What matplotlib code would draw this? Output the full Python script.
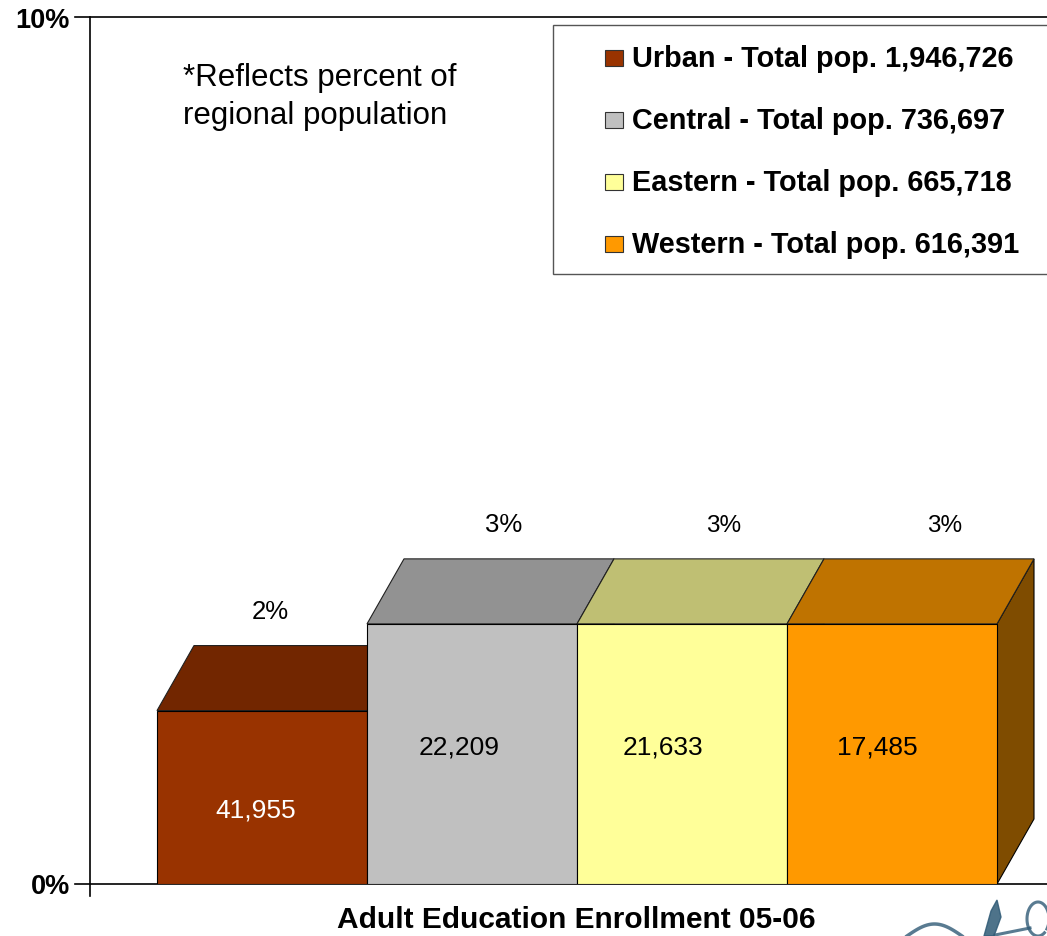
import numpy as np
import matplotlib.pyplot as plt
from matplotlib.patches import Polygon, Rectangle

plt.rcParams['font.family'] = ['Liberation Sans', 'DejaVu Sans']

regions = ["Urban", "Central", "Eastern", "Western"]
total_pop = [1946726, 736697, 665718, 616391]
enrolled = [41955, 22209, 21633, 17485]
pct_of_pop = [2, 3, 3, 3]  # shown rounded, in percent

front_colors = ["#993300", "#C0C0C0", "#FFFF99", "#FF9900"]
top_colors = ["#722600", "#929292", "#BFBF73", "#BF7300"]
side_colors = ["#4C1A00", "#606060", "#80804C", "#7F4C00"]

# figure size in pixels, everything in the overlay is laid out in these
W, H = 1047, 937
DEPTH_X = 37 / 210.0   # fake 3d depth, in bar widths
DEPTH_Y = 0.75         # fake 3d depth, in percent

# label placement tweaks (layout only)
pct_dx = [0.04, 0.15, 0.20, 0.25]
pct_size = [18.5, 18.5, 17.5, 17.5]
inner_dx = [-0.03, -0.06, -0.09, -0.07]
inner_y = [0.78, 1.51, 1.51, 1.51]
inner_color = ["white", "black", "black", "black"]


def draw_box(ax, i, v):
    left, right = i - 0.5, i + 0.5
    side = Polygon([(right, 0), (right + DEPTH_X, DEPTH_Y),
                    (right + DEPTH_X, v + DEPTH_Y), (right, v)],
                   closed=True, facecolor=side_colors[i], edgecolor="black", lw=0.8)
    top = Polygon([(left, v), (right, v), (right + DEPTH_X, v + DEPTH_Y),
                   (left + DEPTH_X, v + DEPTH_Y)],
                  closed=True, facecolor=top_colors[i], edgecolor="#202020", lw=0.8)
    front = Rectangle((left, 0), 1, v, facecolor=front_colors[i],
                      edgecolor="black", lw=0.8)
    for p in (side, top, front):
        ax.add_patch(p)


fig = plt.figure(figsize=(W / 100, H / 100), dpi=100)

# overlay in pixel coords for axis lines, legend and free text
ov = fig.add_axes([0, 0, 1, 1])
ov.set_xlim(0, W)
ov.set_ylim(H, 0)
ov.axis("off")

# value axis and the two gridlines
ov.plot([90, 90], [18, 897], color="black", lw=1.2)
ov.plot([75, W], [18, 18], color="black", lw=1.2)
ov.plot([75, W], [885, 885], color="black", lw=1.2)
ov.text(70, 28, "10%", ha="right", va="baseline", fontsize=19.5, fontweight="bold")
ov.text(70, 894, "0%", ha="right", va="baseline", fontsize=19.5, fontweight="bold")

ov.text(576, 928, "Adult Education Enrollment 05-06", ha="center", va="baseline",
        fontsize=21.5, fontweight="bold")

ov.text(183, 86, "*Reflects percent of", ha="left", va="baseline", fontsize=22.5)
ov.text(183, 124, "regional population", ha="left", va="baseline", fontsize=22.5)

# legend
ov.add_patch(Rectangle((553, 26), W - 553 + 5, 249, facecolor="white",
                       edgecolor="#555555", lw=1, clip_on=False))
for k, (name, pop) in enumerate(zip(regions, total_pop)):
    base = 67 + 62 * k
    ov.add_patch(Rectangle((605, base - 16), 18, 16, facecolor=front_colors[k],
                           edgecolor="#333333", lw=0.8))
    ov.text(632, base, f"{name} - Total pop. {pop:,}", ha="left", va="baseline",
            fontsize=20.8, fontweight="bold")

# little swirl in the corner
t = np.linspace(0, 1, 60)
ov.plot(907 + 55 * t, 937 - 12 * np.sin(np.pi * t), color="#2F5A76", lw=2.5, alpha=0.8)
ov.fill([984, 991, 997, 1001, 994], [937, 912, 901, 918, 937], color="#2F5A76", alpha=0.85)
ang = np.linspace(0.3 * np.pi, 2.2 * np.pi, 80)
ov.plot(1038 + 11 * np.cos(ang), 920 + 17 * np.sin(ang), color="#2F5A76", lw=2.2, alpha=0.8)
ov.plot([995, 1030], [936, 929], color="#2F5A76", lw=2.2, alpha=0.8)

# bars
ax = fig.add_axes([90 / W, (H - 885) / H, (W - 90) / W, (885 - 18) / H])
ax.patch.set_visible(False)
ax.set_xlim(-0.5 - 67 / 210.0, 3.5 + 50 / 210.0)
ax.set_ylim(0, 10)
ax.axis("off")

for i, v in enumerate(pct_of_pop):
    draw_box(ax, i, v)
    ax.text(i + pct_dx[i], v + DEPTH_Y + 0.32, f"{v}%", ha="center", va="baseline",
            fontsize=pct_size[i])
    ax.text(i + inner_dx[i], inner_y[i], f"{enrolled[i]:,}", ha="center", va="baseline",
            fontsize=19, color=inner_color[i])

fig.savefig("out.png", dpi=100)
